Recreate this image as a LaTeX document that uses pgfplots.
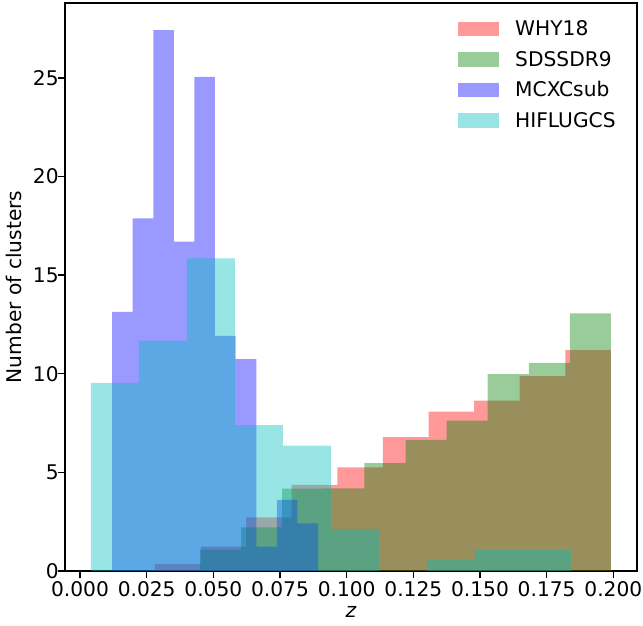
\documentclass[border=0pt]{standalone}
\usepackage{pgfplots}
\pgfplotsset{compat=1.18}
\usepackage{fontspec}
\setmainfont{DejaVu Sans}
\definecolor{mplr}{rgb}{1,0,0}
\definecolor{mplg}{rgb}{0,0.5,0}
\definecolor{mplb}{rgb}{0,0,1}
\definecolor{mplc}{rgb}{0,0.75,0.75}
\begin{document}
\begin{tikzpicture}
\begin{axis}[
  at={(0,0)}, anchor=south west,
  scale only axis, width=572pt, height=568pt,
  xmin=-0.00563, xmax=0.20888, ymin=0, ymax=28.79,
  axis line style={line width=1.5pt, black},
  every tick/.style={black, line width=1.5pt},
  major tick length=6.8pt, tick align=outside,
  xtick pos=bottom, ytick pos=left,
  xtick={0,0.025,0.05,0.075,0.1,0.125,0.15,0.175,0.2},
  xticklabels={0.000,0.025,0.050,0.075,0.100,0.125,0.150,0.175,0.200},
  ytick={0,5,10,15,20,25},
  yticklabels={0,5,10,15,20,25},
  yticklabel style={xshift=4pt},
  font=\fontsize{20.2}{24}\selectfont,
  /pgf/number format/assume math mode=true,
  ylabel={Number of clusters},
  ylabel style={at={(axis description cs:-0.0892,0.5)}, anchor=center},
  xlabel={\textit{z}},
  xlabel style={at={(axis description cs:0.5,-0.073)}, anchor=center},
  legend image code/.code={\fill[#1] (0pt,-7.3pt) rectangle (41pt,7.3pt);},
  legend cell align=left,
  legend style={draw=none, fill=none, at={(0.6871,0.969)}, anchor=north west,
    font=\fontsize{20.2}{24}\selectfont,
    inner sep=0pt, row sep=13.9pt, column sep=16pt,
    nodes={inner sep=0pt}},
]
% WHY18
\addplot[const plot, fill=mplr, fill opacity=0.4, draw=none] coordinates {
(0.0281,0.35) (0.0452,1.23) (0.0623,2.72) (0.0794,4.36) (0.0965,5.25)
(0.1136,6.79) (0.1307,8.08) (0.1478,8.63) (0.1649,9.88) (0.1820,11.2) (0.1991,11.2)} \closedcycle;
\addlegendentry{WHY18}
% SDSSDR9
\addplot[const plot, fill=mplg, fill opacity=0.4, draw=none] coordinates {
(0.0450,1.08) (0.0604,2.21) (0.0758,4.17) (0.0912,4.19) (0.1066,5.47)
(0.1221,6.64) (0.1375,7.62) (0.1529,9.98) (0.1683,10.55) (0.1837,13.06) (0.1991,13.06)} \closedcycle;
\addlegendentry{SDSSDR9}
% MCXCsub
\addplot[const plot, fill=mplb, fill opacity=0.4, draw=none] coordinates {
(0.0120,13.13) (0.0197,17.87) (0.0275,27.42) (0.0352,16.69) (0.0429,25.04)
(0.0506,11.92) (0.0584,10.74) (0.0661,1.23) (0.0738,3.60) (0.0815,2.42) (0.0893,2.42)} \closedcycle;
\addlegendentry{MCXCsub}
% HIFLUGCS
\addplot[const plot, fill=mplc, fill opacity=0.4, draw=none] coordinates {
(0.0041,9.54) (0.0221,11.66) (0.0401,15.85) (0.0581,7.40) (0.0761,6.35)
(0.0941,2.12) (0.1121,0) (0.1301,0.56) (0.1481,1.06) (0.1661,1.06) (0.1841,1.06)} \closedcycle;
\addlegendentry{HIFLUGCS}
\end{axis}
\pgfresetboundingbox
\useasboundingbox (-65pt,-55pt) rectangle (578pt,571pt);
\end{tikzpicture}
\end{document}
